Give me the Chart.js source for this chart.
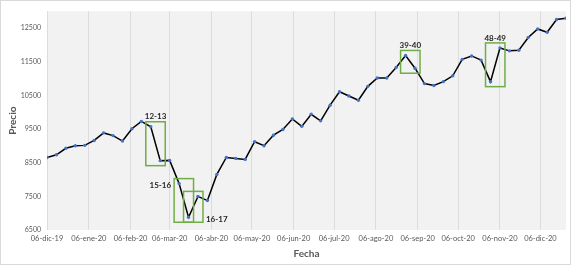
<!DOCTYPE html>
<html>
<head>
<meta charset="utf-8">
<script src="https://cdn.jsdelivr.net/npm/chart.js@4"></script>
<style>
  html, body { margin: 0; padding: 0; background: #fff; }
  #wrap { width: 571px; height: 265px; box-sizing: border-box; border: 1px solid #d9d9d9; }
  #chart { display: block; }
</style>
</head>
<body>
<div id="wrap"><canvas id="chart" width="569" height="263"></canvas></div>
<script>
// weekly closing prices, first week = 06-dic-19
const prices = [
  8656, 8734, 8927, 9005, 9014, 9160, 9384, 9305, 9142, 9509,
  9725, 9567, 8560, 8568, 7878, 6879, 7499, 7374, 8152, 8656,
  8627, 8597, 9122, 9005, 9317, 9486, 9800, 9579, 9937, 9742,
  10208, 10607, 10482, 10354, 10767, 11015, 11015, 11327, 11685, 11306,
  10849, 10791, 10907, 11082, 11569, 11671, 11548, 10907, 11909, 11822,
  11840, 12218, 12472, 12375, 12754, 12792
];

// x ticks: days since 06-dic-19
const tickDays = [0, 31, 62, 91, 122, 152, 183, 213, 244, 275, 305, 336, 366];
const tickLabels = ['06-dic-19', '06-ene-20', '06-feb-20', '06-mar-20', '06-abr-20', '06-may-20',
  '06-jun-20', '06-jul-20', '06-ago-20', '06-sep-20', '06-oct-20', '06-nov-20', '06-dic-20'];
const yTicks = [6500, 7500, 8500, 9500, 10500, 11500, 12500];

// highlighted pairs of weeks (0-based point indices)
const boxFrom = [11, 14, 15, 38, 47];
const boxTo = [12, 15, 16, 39, 48];
const boxLabels = ['12-13', '15-16', '16-17', '39-40', '48-49'];
const boxLabelSide = ['top', 'left', 'right', 'top', 'top'];

const FONT = 'Lato, "Open Sans", sans-serif';

const plotBg = {
  id: 'plotBg',
  beforeDraw(chart) {
    const { ctx, chartArea: a } = chart;
    ctx.save();
    ctx.fillStyle = '#f2f2f2';
    ctx.fillRect(a.left, a.top, a.right - a.left, a.bottom - a.top);
    ctx.restore();
  }
};

const boxes = {
  id: 'boxes',
  afterDatasetsDraw(chart) {
    const { ctx } = chart;
    const pts = chart.getDatasetMeta(0).data;
    const pad = 5;
    ctx.save();
    boxFrom.forEach((a, i) => {
      const p = pts[a], q = pts[boxTo[i]];
      const l = Math.min(p.x, q.x) - pad, r = Math.max(p.x, q.x) + pad;
      const t = Math.min(p.y, q.y) - pad, b = Math.max(p.y, q.y) + pad;
      ctx.strokeStyle = '#70ad47';
      ctx.lineWidth = 1.5;
      ctx.strokeRect(l, t, r - l, b - t);
      ctx.fillStyle = '#262626';
      ctx.font = 'bold 8px ' + FONT;
      ctx.textBaseline = 'middle';
      const side = boxLabelSide[i];
      if (side === 'top') {
        ctx.textAlign = 'center';
        ctx.fillText(boxLabels[i], (l + r) / 2, t - 5);
      } else if (side === 'left') {
        ctx.textAlign = 'right';
        ctx.fillText(boxLabels[i], l - 3, t + 7);
      } else {
        ctx.textAlign = 'left';
        ctx.fillText(boxLabels[i], r + 3, b - 3);
      }
    });
    ctx.restore();
  }
};

new Chart(document.getElementById('chart'), {
  type: 'line',
  data: {
    datasets: [{
      label: 'Precio',
      data: prices.map((v, i) => ({ x: i * 7, y: v })),
      borderColor: '#000000',
      borderWidth: 1.5,
      pointRadius: 1.7,
      pointBackgroundColor: '#4472c4',
      pointBorderWidth: 0,
      tension: 0
    }]
  },
  options: {
    responsive: false,
    animation: false,
    layout: { padding: { top: 6, right: 3, left: 2, bottom: 0 } },
    plugins: { legend: { display: false }, tooltip: { enabled: false } },
    scales: {
      x: {
        type: 'linear',
        min: 0,
        max: 385,
        afterBuildTicks: axis => { axis.ticks = tickDays.map(v => ({ value: v })); },
        afterFit: axis => { axis.height = 34; },
        ticks: {
          autoSkip: false,
          maxRotation: 0,
          padding: 4,
          color: '#595959',
          font: { family: FONT, size: 7.5 },
          callback: (v, i) => tickLabels[i]
        },
        grid: { color: '#dcdcdc', drawTicks: false },
        border: { display: false },
        title: { display: true, text: 'Fecha', color: '#595959', padding: { top: 3 },
          font: { family: FONT, size: 10, weight: 'bold' } }
      },
      y: {
        min: 6500,
        max: 13000,
        afterBuildTicks: axis => { axis.ticks = yTicks.map(v => ({ value: v })); },
        afterFit: axis => { axis.width = 44; },
        ticks: {
          padding: 6,
          color: '#595959',
          font: { family: FONT, size: 7 },
          callback: v => String(v)
        },
        grid: { display: false, drawTicks: false },
        border: { display: false },
        title: { display: true, text: 'Precio', color: '#595959', padding: { bottom: 0 },
          font: { family: FONT, size: 10, weight: 'bold' } }
      }
    }
  },
  plugins: [plotBg, boxes]
});
</script>
</body>
</html>
